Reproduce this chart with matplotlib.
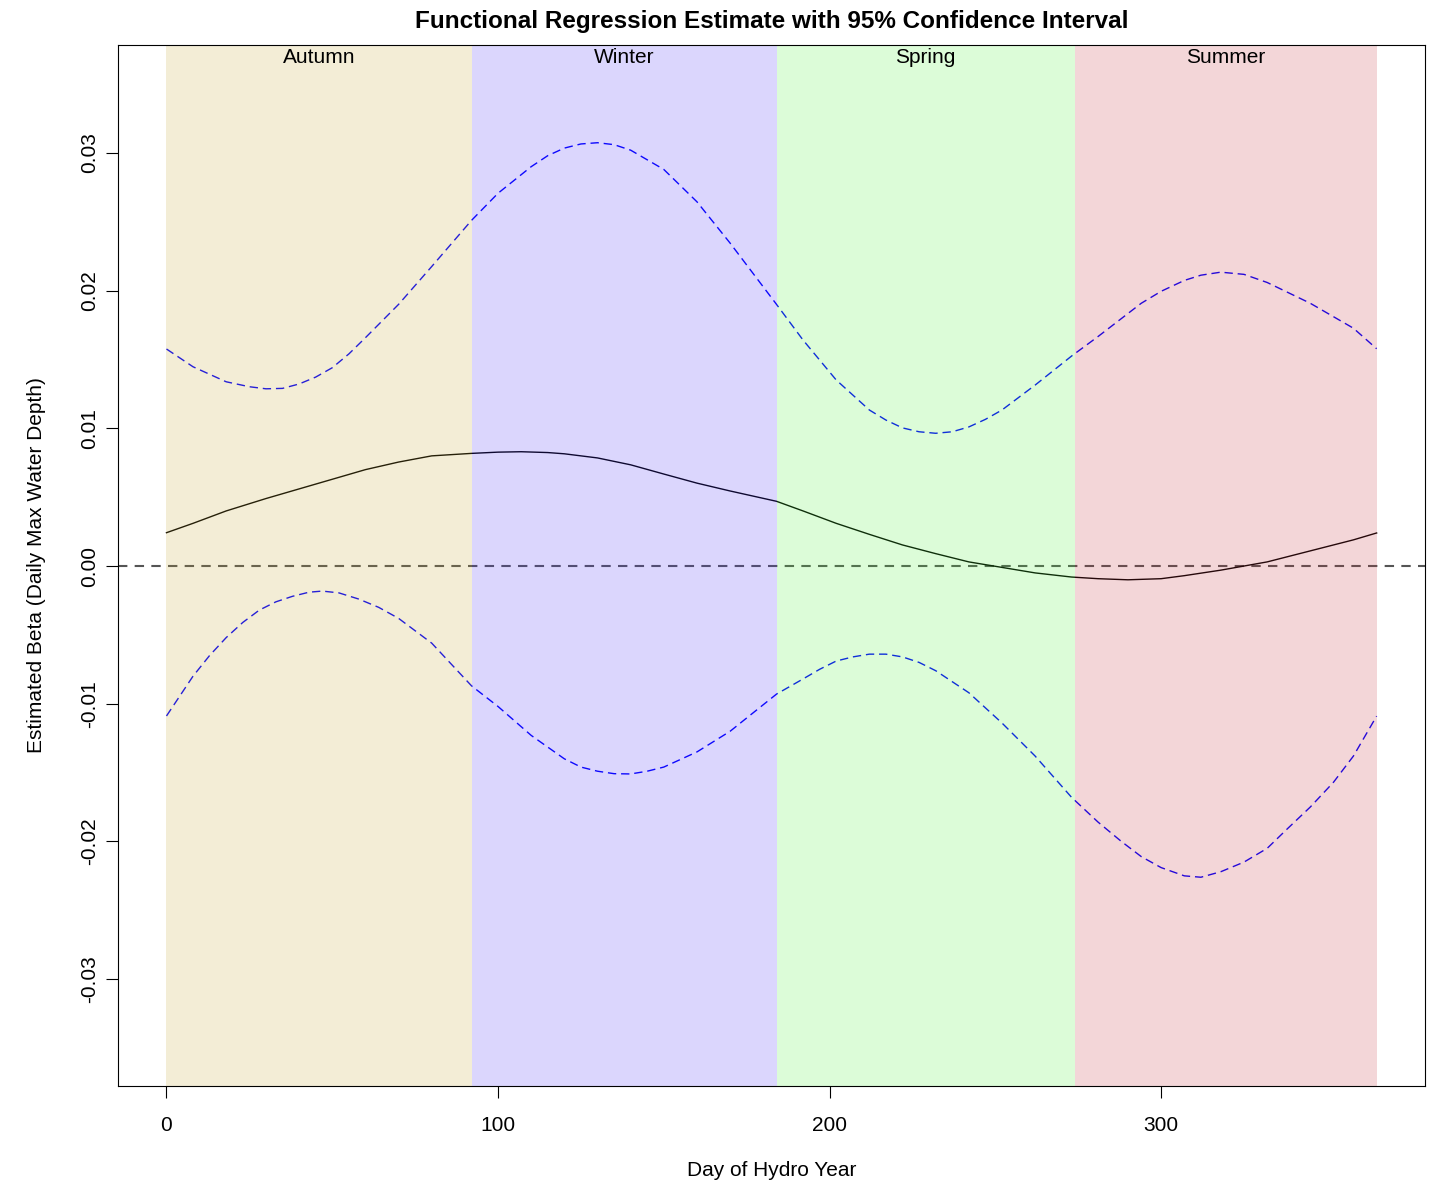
import matplotlib
matplotlib.use("Agg")
import matplotlib.pyplot as plt
from matplotlib.patches import Rectangle

plt.rcParams['font.family'] = ['Liberation Sans', 'DejaVu Sans']

# estimated beta curve (day of hydro year, value)
est_days = [0, 8, 18, 30, 40, 50, 60, 70, 80, 92, 100, 107, 115, 120, 130, 140, 150, 160, 170,
            184, 192, 202, 212, 222, 232, 242, 252, 262, 273, 281, 290, 300, 307, 318, 332, 345, 358, 365]
beta_est = [0.00242, 0.0031, 0.0040, 0.0049, 0.0056, 0.0063, 0.0070, 0.00755, 0.0080, 0.00818,
            0.00827, 0.0083, 0.00824, 0.00815, 0.00785, 0.00735, 0.00668, 0.00602, 0.00545,
            0.0047, 0.0040, 0.0031, 0.0023, 0.00153, 0.0009, 0.0003, -0.0001, -0.0005, -0.0008,
            -0.00092, -0.0010, -0.00092, -0.0007, -0.0003, 0.0003, 0.0011, 0.0019, 0.0024]

# upper 95% bound
up_days = [0, 8, 18, 25, 30, 35, 40, 45, 50, 55, 60, 70, 80, 92, 100, 110, 115, 120, 125, 130, 135,
           140, 150, 160, 170, 184, 192, 202, 212, 217, 222, 227, 232, 237, 242, 247, 252, 262, 273,
           281, 294, 300, 307, 312, 318, 325, 332, 345, 358, 365]
upper_ci = [0.01576, 0.01447, 0.01338, 0.01302, 0.01287, 0.01290, 0.01322, 0.01372, 0.01440, 0.01540,
            0.01658, 0.01900, 0.02175, 0.02510, 0.02707, 0.02900, 0.02980, 0.03035, 0.03065, 0.03074,
            0.03060, 0.03020, 0.02880, 0.02645, 0.02345, 0.01900, 0.01641, 0.01351, 0.01133, 0.01060,
            0.01003, 0.00975, 0.00964, 0.00975, 0.01010, 0.01065, 0.01133, 0.01314, 0.01525,
            0.01667, 0.01908, 0.01995, 0.02074, 0.02112, 0.02134, 0.02118, 0.02059, 0.01908, 0.01727, 0.01578]

# lower 95% bound
lo_days = [0, 8, 13, 18, 23, 28, 33, 38, 43, 47, 52, 58, 64, 70, 80, 92, 100, 110, 120, 125, 130, 135,
           140, 145, 150, 160, 170, 184, 192, 197, 202, 207, 212, 217, 222, 227, 232, 242, 252, 262, 273,
           281, 288, 294, 300, 307, 312, 318, 325, 332, 338, 345, 352, 358, 365]
lower_ci = [-0.01089, -0.0080, -0.0065, -0.0052, -0.0041, -0.0032, -0.0026, -0.0022, -0.0019, -0.00182,
            -0.00195, -0.0024, -0.0030, -0.0038, -0.0056, -0.0087, -0.0102, -0.0123, -0.0140, -0.0146,
            -0.0149, -0.01508, -0.0151, -0.0149, -0.0146, -0.0135, -0.0120, -0.0093, -0.0082, -0.0075,
            -0.0069, -0.0066, -0.0064, -0.0064, -0.0066, -0.0070, -0.0076, -0.0092, -0.0114, -0.0138, -0.0168,
            -0.0186, -0.0200, -0.0211, -0.0219, -0.0225, -0.0226, -0.0222, -0.0215, -0.0205, -0.0191,
            -0.0175, -0.0157, -0.0138, -0.0109]

seasons = ['Autumn', 'Winter', 'Spring', 'Summer']
season_start = [0, 92, 184, 274]
season_end = [92, 184, 274, 365]
season_colors = ['#C3A532', '#4B32F5', '#50F03C', '#C3323C']

fig = plt.figure(figsize=(14.4, 11.83), dpi=100)
ax = fig.add_axes([0.082, 0.082, 0.9076, 0.88])

ax.axhline(0, color='#555555', lw=1.5, linestyle=(0, (4.5, 3.5)), zorder=1)
ax.plot(est_days, beta_est, color='black', lw=1.0, zorder=1)
ax.plot(up_days, upper_ci, color='blue', lw=1.0, linestyle=(0, (6, 3.5)), zorder=1)
ax.plot(lo_days, lower_ci, color='blue', lw=1.0, linestyle=(0, (6, 3.5)), zorder=1)

# season bands drawn on top, semi transparent
for name, s, e, c in zip(seasons, season_start, season_end, season_colors):
    ax.add_patch(Rectangle((s, -1), e - s, 2, facecolor=c, alpha=0.2, lw=0, zorder=2))
    ax.text((s + e) / 2, 0.0369, name, ha='center', va='center', fontsize=15, zorder=3)

ax.set_xlim(-14.6, 379.6)
ax.set_ylim(-0.03776, 0.03784)
ax.set_xticks([0, 100, 200, 300])
ax.set_yticks([-0.03, -0.02, -0.01, 0.0, 0.01, 0.02, 0.03])
ax.set_yticklabels(['-0.03', '-0.02', '-0.01', '0.00', '0.01', '0.02', '0.03'],
                   rotation=90, va='center')
ax.tick_params(direction='out', length=8.5, width=0.8, labelsize=15)
ax.tick_params(axis='x', pad=13)
ax.tick_params(axis='y', pad=5)
for sp in ax.spines.values():
    sp.set_linewidth(0.8)

ax.set_xlabel('Day of Hydro Year', fontsize=15, labelpad=19)
ax.set_ylabel('Estimated Beta (Daily Max Water Depth)', fontsize=15, labelpad=25)
ax.set_title('Functional Regression Estimate with 95% Confidence Interval',
             fontsize=17.5, fontweight='bold', pad=12)

fig.savefig('out.png', dpi=100)
